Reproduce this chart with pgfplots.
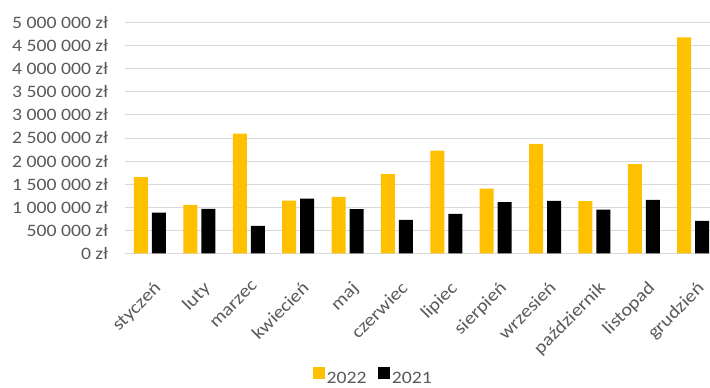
\documentclass[border=0pt]{standalone}
\usepackage{pgfplots}
\pgfplotsset{compat=1.18}
\usepackage{fontspec}
\setmainfont[FakeStretch=1.13]{Carlito}
\definecolor{xlyellow}{HTML}{FFC000}
\definecolor{xltext}{HTML}{595959}
\definecolor{xlgrid}{HTML}{D9D9D9}
\begin{document}
\begin{tikzpicture}[x=1bp,y=1bp]
\useasboundingbox (0,0) rectangle (710,387);
\begin{axis}[
  at={(125.3bp,133.7bp)}, anchor=south west,
  scale only axis, width=584.7bp, height=230.6bp,
  xmin=-0.5, xmax=11.34, ymin=0, ymax=5000000,
  axis line style={draw=none},
  tick style={draw=none},
  ymajorgrids, major grid style={draw=xlgrid, line width=1bp},
  ytick={0,500000,1000000,1500000,2000000,2500000,3000000,3500000,4000000,4500000,5000000},
  yticklabels={0 zł,500 000 zł,1 000 000 zł,1 500 000 zł,2 000 000 zł,2 500 000 zł,3 000 000 zł,3 500 000 zł,4 000 000 zł,4 500 000 zł,5 000 000 zł},
  scaled y ticks=false,
  yticklabel style={font=\fontsize{17.5}{20}\selectfont, text=xltext, inner sep=0pt, anchor=east, xshift=-17bp},
  xtick={0,1,2,3,4,5,6,7,8,9,10,11},
  xticklabels={styczeń,luty,marzec,kwiecień,maj,czerwiec,lipiec,sierpień,wrzesień,październik,listopad,grudzień},
  xticklabel style={font=\fontsize{18}{20}\selectfont, text=xltext, inner sep=0pt, yshift=-27bp, xshift=3bp, rotate=45, anchor=north east},
  legend columns=2,
  legend style={at={(0.4236,-0.537)}, anchor=center, draw=none, fill=none, inner sep=0pt,
    font=\fontsize{17.5}{20}\selectfont, text=xltext,
    nodes={inner sep=1.5bp},
    /tikz/every even column/.append style={column sep=10bp}},
  legend image code/.code={\fill[#1] (0bp,-0.5bp) rectangle (12.5bp,11.5bp);},
]
\addplot[ybar, bar width=14bp, bar shift=-9bp, fill=xlyellow, draw=none] coordinates {
(0,1652000) (1,1050000) (2,2593000) (3,1143000) (4,1224000) (5,1717000)
(6,2224000) (7,1404000) (8,2370000) (9,1130000) (10,1935000) (11,4680000)};
\addlegendentry{2022}
\addplot[ybar, bar width=14bp, bar shift=9bp, fill=black, draw=none] coordinates {
(0,883000) (1,963000) (2,593000) (3,1187000) (4,957000) (5,724000)
(6,854000) (7,1109000) (8,1137000) (9,948000) (10,1159000) (11,702000)};
\addlegendentry{2021}
\end{axis}
\end{tikzpicture}
\end{document}
